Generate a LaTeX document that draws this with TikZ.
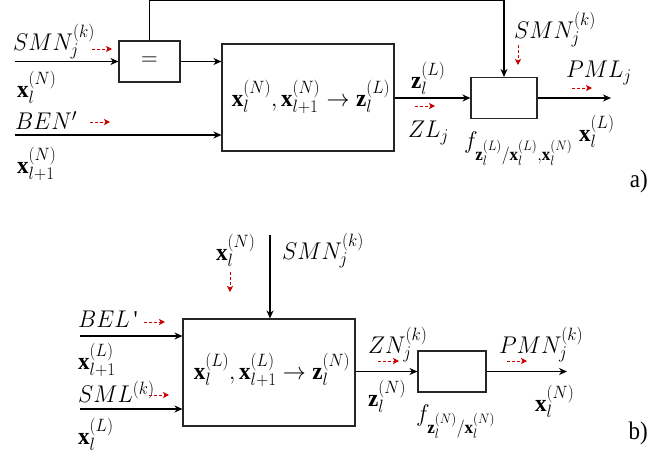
\documentclass[tikz,border=0pt]{standalone}
\usepackage{fix-cm}
\usepackage{graphicx}
\usepackage{fontspec}
\setmainfont{Liberation Serif}
\DeclareMathSizes{23}{23}{17}{13}
\usetikzlibrary{arrows.meta}
\newcommand{\tl}[1]{\scalebox{1}[1.05]{$#1$}}
\tikzset{
  lbl/.style={inner sep=0pt, font=\fontsize{23}{27}\selectfont},
  boxn/.style={draw=black!85, line width=1.1pt, inner sep=0pt},
  arr/.style={line width=1.1pt, -{Stealth[length=8pt,width=7pt,inset=2.5pt]}},
  redarr/.style={draw=red!80!black, line width=0.9pt, dash pattern=on 3pt off 2pt, -{Stealth[length=6pt,width=6pt,inset=1.5pt]}}
}
\begin{document}
\begin{tikzpicture}[x=1pt,y=-1pt]
\useasboundingbox (0,0) rectangle (649,453);
% ---------- part a ----------
\node[boxn, minimum width=61pt, minimum height=41pt, font=\fontsize{23}{27}\selectfont] (eqA) at (149.5,61.5) {\tl{=}};
\node[boxn, minimum width=172pt, minimum height=107pt] (bigA) at (308,97.5) {};
\node[lbl] (mainA) at (311,97) {\tl{\mathbf{x}_l^{(N)},\mathbf{x}_{l+1}^{(N)}\rightarrow\mathbf{z}_l^{(L)}}};
\node[boxn, minimum width=66pt, minimum height=41pt] (smA) at (504,98) {};

\coordinate (inA1) at (15,61.5);
\coordinate (inA2) at (15,135);
\coordinate (outA) at (611,98);
\draw[arr] (inA1) -- (eqA.west);
\draw[arr] (eqA.east) -- (eqA.east -| bigA.west);
\draw[arr] (inA2) -- (inA2 -| bigA.west);
\draw[arr] (eqA.north) -- ++(0,-40) -| (smA.north);
\draw[arr] (bigA.east |- smA.west) -- (smA.west);
\draw[arr] (smA.east) -- (outA);

\node[lbl, anchor=south west] (smnA1) at (13,59) {\tl{SMN_j^{(k)}}};
\node[lbl, anchor=north west] (xA1) at (17,71) {\tl{\mathbf{x}_l^{(N)}}};
\node[lbl, anchor=south west] (benA) at (15,130) {\tl{BEN'}};
\node[lbl, anchor=north west] (xA2) at (17,147) {\tl{\mathbf{x}_{l+1}^{(N)}}};
\node[lbl, anchor=north west] (zA) at (411,62) {\tl{\mathbf{z}_l^{(L)}}};
\node[lbl, anchor=north west] (zlA) at (408,121) {\tl{ZL_j}};
\node[lbl, anchor=north west] (smnA2) at (514,12) {\tl{SMN_j^{(k)}}};
\node[lbl, anchor=north west] (pmlA) at (566,61) {\tl{PML_j}};
\node[lbl, anchor=north west] (xA3) at (579,115) {\tl{\mathbf{x}_l^{(L)}}};
\node[lbl, anchor=north west] (fA) at (464,132) {\tl{f_{\mathbf{z}_l^{(L)}/\mathbf{x}_l^{(L)},\mathbf{x}_l^{(N)}}}};
\node[lbl, anchor=north east] (tagA) at (648,170) {\scalebox{1}[1.1]{a)}};

\draw[redarr] (92,49) -- (112,49);
\draw[redarr] (90,122) -- (110,122);
\draw[redarr] (415,106) -- (435,106);
\draw[redarr] (518,45) -- (518,65);
\draw[redarr] (572,88) -- (592,88);

% ---------- part b ----------
\node[boxn, minimum width=172pt, minimum height=107pt] (bigB) at (269,372.5) {};
\node[lbl] (mainB) at (272,370) {\tl{\mathbf{x}_l^{(L)},\mathbf{x}_{l+1}^{(L)}\rightarrow\mathbf{z}_l^{(N)}}};
\node[boxn, minimum width=68pt, minimum height=41pt] (smB) at (452,371.5) {};

\coordinate (topB) at (270,235);
\coordinate (inB1) at (80,336);
\coordinate (inB2) at (80,409);
\coordinate (outB) at (567,371.5);
\draw[arr] (topB) -- (topB |- bigB.north);
\draw[arr] (inB1) -- (inB1 -| bigB.west);
\draw[arr] (inB2) -- (inB2 -| bigB.west);
\draw[arr] (bigB.east |- smB.west) -- (smB.west);
\draw[arr] (smB.east) -- (outB);

\node[lbl, anchor=north west] (xB0) at (216,234) {\tl{\mathbf{x}_l^{(N)}}};
\node[lbl, anchor=north west] (smnB) at (282,233) {\tl{SMN_j^{(k)}}};
\node[lbl, anchor=south west] (belB) at (78,328) {\scalebox{1}[1.05]{$BEL$\,\textquotesingle}};
\node[lbl, anchor=north west] (xB1) at (78,343) {\tl{\mathbf{x}_{l+1}^{(L)}}};
\node[lbl, anchor=south west] (smlB) at (78,403) {\tl{SML^{(k)}}};
\node[lbl, anchor=north west] (xB2) at (78,418) {\tl{\mathbf{x}_l^{(L)}}};
\node[lbl, anchor=north west] (znB) at (368,327) {\tl{ZN_j^{(k)}}};
\node[lbl, anchor=north west] (zB) at (368,380) {\tl{\mathbf{z}_l^{(N)}}};
\node[lbl, anchor=north west] (pmnB) at (499,327) {\tl{PMN_j^{(k)}}};
\node[lbl, anchor=north west] (xB3) at (535,385) {\tl{\mathbf{x}_l^{(N)}}};
\node[lbl, anchor=north west] (fB) at (416,405) {\tl{f_{\mathbf{z}_l^{(N)}/\mathbf{x}_l^{(N)}}}};
\node[lbl, anchor=north east] (tagB) at (648,422) {\scalebox{1}[1.1]{b)}};

\draw[redarr] (230,272) -- (230,292);
\draw[redarr] (144,322) -- (165,322);
\draw[redarr] (149,395) -- (169,395);
\draw[redarr] (378,361) -- (399,361);
\draw[redarr] (507,361) -- (527,361);
\end{tikzpicture}
\end{document}
